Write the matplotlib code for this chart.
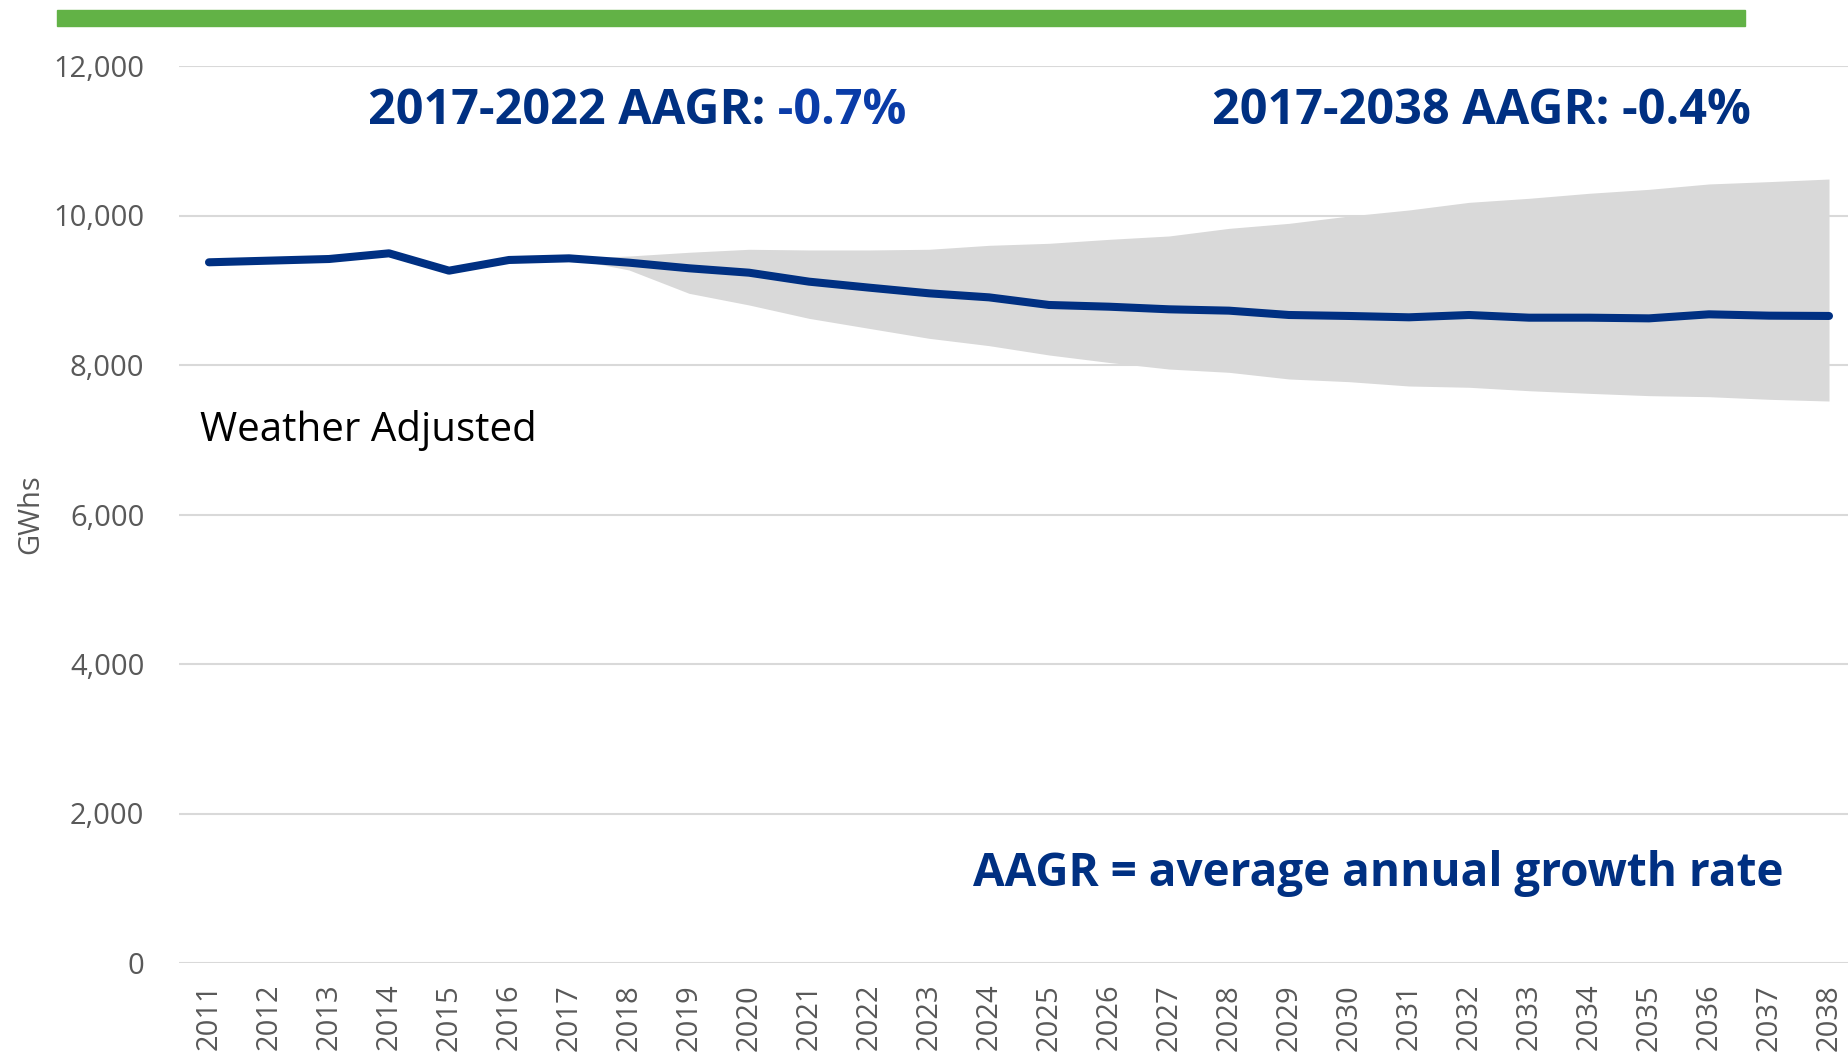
import matplotlib
matplotlib.use('Agg')
import matplotlib.pyplot as plt
from matplotlib.patches import Rectangle

plt.rcParams['font.family'] = ['Open Sans', 'DejaVu Sans']

# data
years = [str(y) for y in range(2011, 2039)]
weather_adjusted = [9374, 9396, 9418, 9494, 9262, 9405, 9427, 9369, 9294, 9235,
                    9115, 9035, 8959, 8905, 8803, 8780, 8745, 8727, 8669, 8656,
                    8638, 8669, 8633, 8633, 8624, 8678, 8660, 8656]
band_years_start = 6  # band starts at 2017
band_upper = [9427, 9458, 9508, 9548, 9539, 9539, 9548, 9601, 9628, 9681, 9726,
              9828, 9895, 9993, 10074, 10176, 10230, 10297, 10350, 10422, 10453, 10488]
band_lower = [9427, 9271, 8959, 8803, 8624, 8490, 8357, 8259, 8134, 8034, 7946,
              7902, 7813, 7777, 7719, 7702, 7656, 7621, 7590, 7576, 7541, 7518]
y_ticks = [0, 2000, 4000, 6000, 8000, 10000, 12000]

navy = '#003082'
grey_txt = '#595959'

W, H = 1849, 1056
fig = plt.figure(figsize=(W / 100, H / 100), dpi=100)
ax = fig.add_axes([179 / W, 1 - 963 / H, 1 - 179 / W, (963 - 66) / H])

x = list(range(len(years)))
xb = x[band_years_start:]
ax.fill_between(xb, band_lower, band_upper, color='#d9d9d9', lw=0, zorder=2)
ax.plot(x, weather_adjusted, color=navy, lw=5.8, solid_capstyle='round',
        solid_joinstyle='round', zorder=3)

ax.set_xlim(-0.5, 27 + 20 / 60)
ax.set_ylim(0, 12000)
ax.set_yticks(y_ticks)
ax.set_yticklabels([f'{v:,}' for v in y_ticks], fontsize=21, color=grey_txt)
ax.set_xticks(x)
ax.set_xticklabels(years, rotation=90, fontsize=21, color=grey_txt)
ax.tick_params(axis='both', length=0)
ax.tick_params(axis='y', pad=25)
ax.tick_params(axis='x', pad=15)
for s in ax.spines.values():
    s.set_visible(False)
ax.yaxis.grid(True, color='#d9d9d9', lw=1.5)
ax.set_axisbelow(True)

ax.set_ylabel('GWhs', fontsize=21, color=grey_txt)
ax.yaxis.set_label_coords(-0.080, 0.5)

# annotations
t1 = fig.text(368 / W, 1 - 124 / H, '2017-2022 AAGR:', fontsize=35,
              fontweight='bold', color=navy, va='baseline')
ax.annotate(' -0.7%', xy=(1, 0), xycoords=t1, fontsize=35, fontweight='bold',
            color='#0a3ca8', va='bottom', ha='left')
fig.text(1751 / W, 1 - 124 / H, '2017-2038 AAGR: -0.4%', fontsize=35,
         fontweight='bold', color=navy, va='baseline', ha='right')
fig.text(973 / W, 1 - 886 / H, 'AAGR = average annual growth rate', fontsize=33,
         fontweight='bold', color=navy, va='baseline')
fig.text(200 / W, 1 - 441 / H, 'Weather Adjusted', fontsize=29,
         color='black', va='baseline')

# green banner strip at the top
fig.patches.append(Rectangle((57 / W, 1 - 26 / H), (1745 - 57) / W, 16 / H,
                             transform=fig.transFigure, color='#62b246'))

fig.savefig('out.png', dpi=100)
